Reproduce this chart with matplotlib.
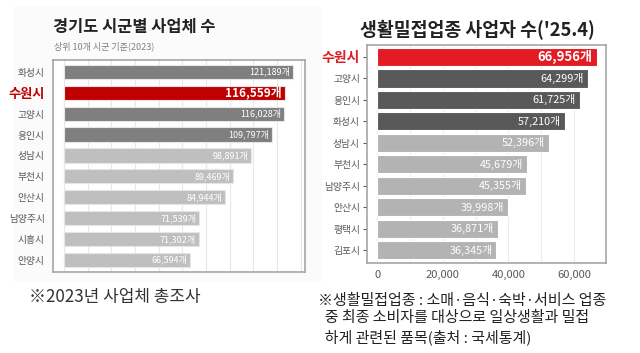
import matplotlib.pyplot as plt
from matplotlib.ticker import FuncFormatter

plt.rcParams['font.family'] = ['Noto Sans CJK KR', 'DejaVu Sans']

# left chart: 2023 business survey
left_cities = ['화성시', '수원시', '고양시', '용인시', '성남시', '부천시', '안산시', '남양주시', '시흥시', '안양시']
left_values = [121189, 116559, 116028, 109797, 98891, 89469, 84944, 71539, 71302, 66594]

# right chart: everyday-life businesses ('25.4)
right_cities = ['수원시', '고양시', '용인시', '화성시', '성남시', '부천시', '남양주시', '안산시', '평택시', '김포시']
right_values = [66956, 64299, 61725, 57210, 52396, 45679, 45355, 39998, 36871, 36345]

fig = plt.figure(figsize=(6.4, 3.53), dpi=100)

# very faint panel background behind left chart
fig.patches.append(plt.Rectangle((0.02, 0.2), 0.483, 0.78, transform=fig.transFigure,
                                 facecolor='#fbfbfb', edgecolor='none', zorder=-1))

# ---- left ----
ax1 = fig.add_axes([0.083, 0.23, 0.394, 0.60])
left_colors = ['#7f7f7f', '#c00000', '#7f7f7f', '#7f7f7f'] + ['#bfbfbf'] * 6
ax1.barh(range(len(left_cities)), left_values, height=0.68, color=left_colors,
         edgecolor='#e6e6e6', linewidth=0.8, zorder=3)
ax1.set_xlim(-5800, 127500)
ax1.set_ylim(9.57, -0.57)
ax1.set_xticks(range(0, 127500, 12500))
ax1.xaxis.grid(True, color='#e8e8e8', linewidth=0.8)
ax1.tick_params(axis='x', bottom=False, labelbottom=False)
ax1.tick_params(axis='y', length=0, pad=6)
ax1.set_yticks(range(len(left_cities)))
ax1.set_yticklabels(left_cities, fontsize=7, color='#595959')
for spine in ax1.spines.values():
    spine.set_color('#a6a6a6')
    spine.set_linewidth(1.2)
for i, v in enumerate(left_values):
    if left_cities[i] == '수원시':
        ax1.text(v - 1500, i, f'{v:,}개', ha='right', va='center', color='white',
                 fontsize=8.5, fontweight='bold', zorder=4)
    else:
        ax1.text(v - 1500, i, f'{v:,}개', ha='right', va='center', color='white',
                 fontsize=6.5, zorder=4)
lab = ax1.get_yticklabels()[1]
lab.set_color('#c00000')
lab.set_fontweight('bold')
lab.set_fontsize(9.5)

fig.text(0.083, 0.925, '경기도 시군별 사업체 수', fontsize=11.8, fontweight='bold', color='#222222',
         va='center')
fig.text(0.085, 0.868, '상위 10개 시군 기준(2023)', fontsize=6.5, color='#7f7f7f', va='center')
fig.text(0.045, 0.159, '※2023년 사업체 총조사', fontsize=12.2, color='#333333', va='center')

# ---- right ----
ax2 = fig.add_axes([0.5734, 0.255, 0.3734, 0.6176])
right_colors = ['#e31b23', '#595959', '#595959', '#595959'] + ['#b3b3b3'] * 6
ax2.barh(range(len(right_cities)), right_values, height=0.85, color=right_colors,
         edgecolor='white', linewidth=0.8, zorder=3)
ax2.set_xlim(-3200, 69800)
ax2.set_ylim(9.6, -0.56)
ax2.set_xticks([0, 20000, 40000, 60000])
ax2.set_xticks([10000, 30000, 50000], minor=True)
ax2.xaxis.grid(True, which='both', color='#ebebeb', linewidth=0.8)
ax2.xaxis.set_major_formatter(FuncFormatter(lambda x, p: f'{int(x):,}'))
ax2.tick_params(axis='x', which='both', length=0, labelsize=8, labelcolor='#595959', pad=5)
ax2.tick_params(axis='y', length=3, color='#595959', pad=2)
ax2.set_yticks(range(len(right_cities)))
ax2.set_yticklabels(right_cities, fontsize=7, color='#595959')
for spine in ax2.spines.values():
    spine.set_color('#a6a6a6')
    spine.set_linewidth(1.2)
for i, v in enumerate(right_values):
    if right_cities[i] == '수원시':
        ax2.text(v - 1200, i, f'{v:,}개', ha='right', va='center', color='white',
                 fontsize=9.5, fontweight='bold', zorder=4)
    else:
        ax2.text(v - 1200, i, f'{v:,}개', ha='right', va='center', color='white',
                 fontsize=7.8, zorder=4)
lab = ax2.get_yticklabels()[0]
lab.set_color('#e31b23')
lab.set_fontweight('bold')
lab.set_fontsize(10)

fig.text(0.746, 0.915, "생활밀접업종 사업자 수('25.4)", fontsize=13.2, fontweight='bold',
         color='#222222', ha='center', va='center')
fig.text(0.497, 0.096,
         '※생활밀접업종 : 소매·음식·숙박·서비스 업종\n  중 최종 소비자를 대상으로 일상생활과 밀접\n  하게 관련된 품목(출처 : 국세통계)',
         fontsize=10.8, color='#222222', va='center', linespacing=1.3)

fig.savefig('out.png', dpi=100)
